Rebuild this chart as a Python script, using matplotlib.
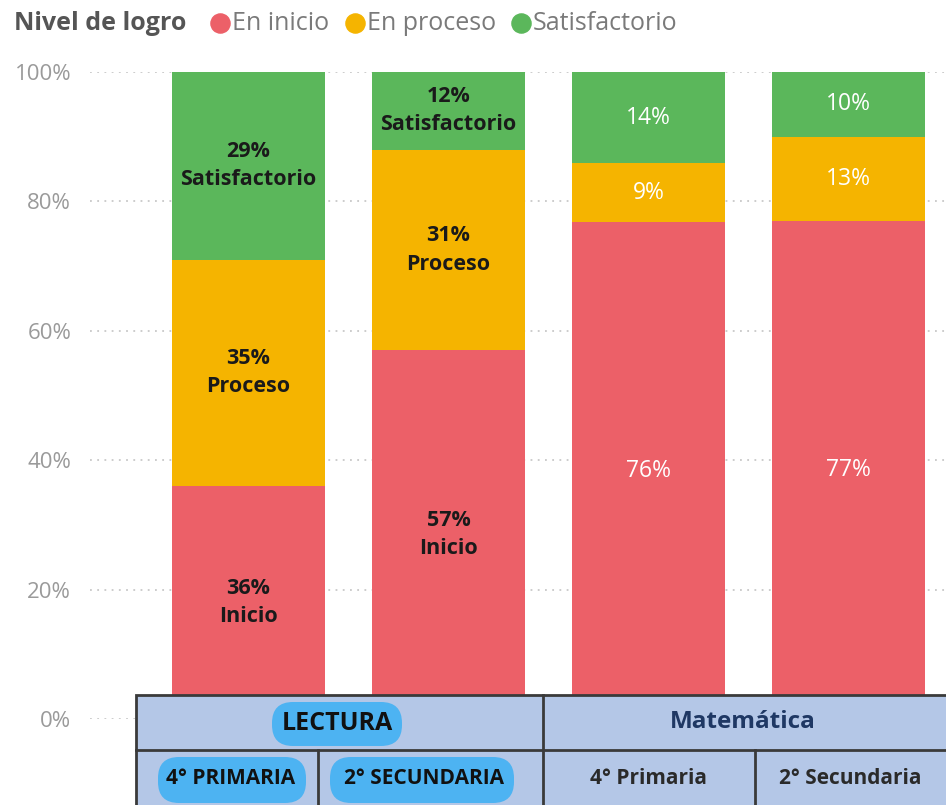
import numpy as np
import matplotlib
matplotlib.use("Agg")
from matplotlib import pyplot as plt
from matplotlib.patches import Rectangle, FancyBboxPatch

# Datos (porcentaje por nivel de logro)
grupos = ["LECTURA", "Matemática"]
grados = ["4° PRIMARIA", "2° SECUNDARIA", "4° Primaria", "2° Secundaria"]
niveles = ["En inicio", "En proceso", "Satisfactorio"]
etiquetas_nivel = ["Inicio", "Proceso", "Satisfactorio"]
en_inicio = np.array([36, 57, 76, 77])
en_proceso = np.array([35, 31, 9, 13])
satisfactorio = np.array([29, 12, 14, 10])

colores = ["#EC6068", "#F5B400", "#5BB75B"]

valores = np.vstack([en_inicio, en_proceso, satisfactorio]).astype(float)
# grafico 100% apilado: se normaliza cada columna
norm = valores / valores.sum(axis=0) * 100

W, H = 946, 805
fig = plt.figure(figsize=(W / 100, H / 100), dpi=100)
ax = fig.add_axes([90 / W, (H - 719) / H, 856 / W, 647 / H])

x = np.arange(len(grados))
base = np.zeros(len(grados))
for i in range(3):
    ax.bar(x, norm[i], bottom=base, width=0.765, color=colores[i], zorder=2)
    for j in range(len(grados)):
        yc = base[j] + norm[i][j] / 2
        if j < 2:
            ax.text(x[j], yc, f"{valores[i][j]:.0f}%\n{etiquetas_nivel[i]}", ha="center", va="center",
                    fontsize=15.5, fontweight="bold", color="#1a1a1a", family="Open Sans",
                    linespacing=1.45, zorder=3)
        else:
            ax.text(x[j], yc, f"{valores[i][j]:.0f}%", ha="center", va="center",
                    fontsize=16.5, color="white", family="Open Sans", zorder=3)
    base += norm[i]

ax.set_xlim(-0.7925, 3.4875)
ax.set_ylim(0, 100)
ax.set_yticks([0, 20, 40, 60, 80, 100])
ax.set_yticklabels([f"{v}%" for v in [0, 20, 40, 60, 80, 100]], color="#9a9a9a",
                   fontsize=16, family="Open Sans")
ax.tick_params(axis="y", length=0, pad=13.5)
ax.set_xticks([])
ax.grid(axis="y", linestyle=(0, (1, 3)), color="#c8c8c8", lw=1.3, zorder=0)
for s in ax.spines.values():
    s.set_visible(False)

# capa superior en pixeles para leyenda y tabla
ov = fig.add_axes([0, 0, 1, 1], zorder=5)
ov.set_xlim(0, W)
ov.set_ylim(H, 0)
ov.axis("off")

# leyenda
ov.text(14, 24, "Nivel de logro", fontsize=18, fontweight="bold", color="#555555",
        family="Open Sans", va="center")
ley_x = [220, 355, 521]
for i in range(3):
    ov.scatter(ley_x[i], 23, s=190, color=colores[i], zorder=6)
    ov.text(ley_x[i] + 12, 24, niveles[i], fontsize=18, color="#7a7a7a", family="Open Sans",
            va="center")

# tabla de categorias
borde = "#3a3a3a"
ov.add_patch(Rectangle((136, 695), 820, 120, facecolor="#B4C7E7", edgecolor=borde, lw=2, zorder=4))
ov.plot([136, 946], [750, 750], color=borde, lw=2, zorder=5)
ov.plot([543, 543], [695, 805], color=borde, lw=2, zorder=5)
ov.plot([318, 318], [750, 805], color=borde, lw=2, zorder=5)
ov.plot([755, 755], [750, 805], color=borde, lw=2, zorder=5)

pill = "#4DB3F2"
pills = [(272, 702, 130, 44), (158, 757, 148, 46), (330, 757, 184, 46)]
for (px, py, pw, ph) in pills:
    ov.add_patch(FancyBboxPatch((px, py), pw, ph, boxstyle="round,pad=0,rounding_size=21",
                                facecolor=pill, edgecolor="none", zorder=5))

ov.text(337, 723, grupos[0], fontsize=18, fontweight="bold", color="#111111",
        family="Open Sans", ha="center", va="center", zorder=6)
ov.text(743, 722, grupos[1], fontsize=17.5, fontweight="bold", color="#1F3864",
        family="Open Sans", ha="center", va="center", zorder=6)
centros = [231, 424, 648, 850]
for j in range(4):
    ov.text(centros[j], 778, grados[j], fontsize=15, fontweight="bold",
            color="#111111" if j < 2 else "#2a2a2a", family="Open Sans",
            ha="center", va="center", zorder=6)

fig.savefig("out.png", dpi=100)
